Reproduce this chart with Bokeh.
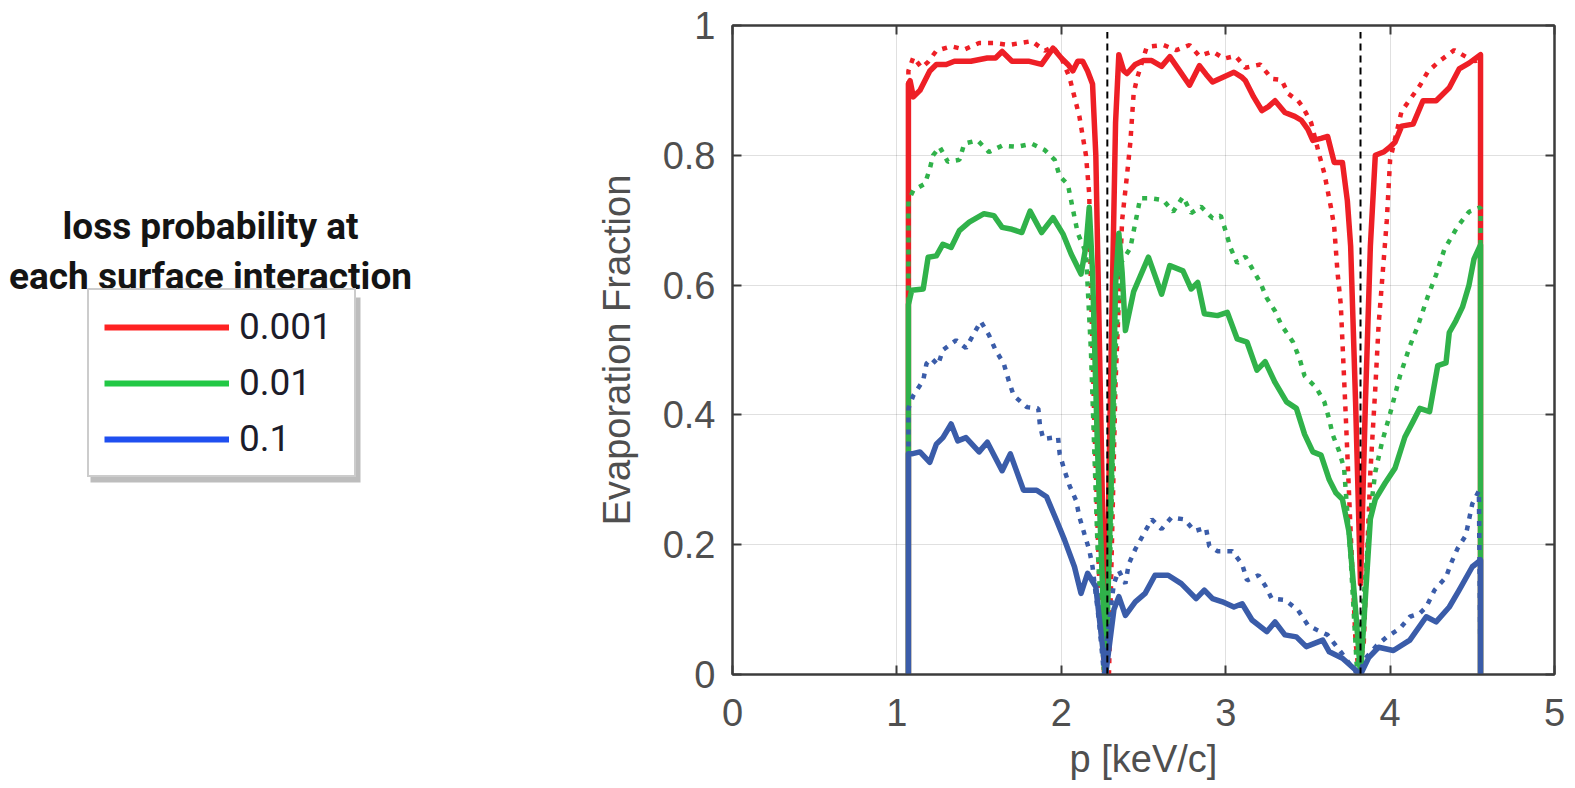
from bokeh.plotting import figure
from bokeh.layouts import row
from bokeh.models import Range1d, LinearAxis, FixedTicker, Legend, LegendItem, Label
from bokeh.embed import file_html
from bokeh.resources import INLINE

# ---------------- data ----------------
x_ticks = [0, 1, 2, 3, 4, 5]
y_ticks = [0, 0.2, 0.4, 0.6, 0.8, 1]
y_tick_labels = ["0", "0.2", "0.4", "0.6", "0.8", "1"]
legend_labels = ["0.001", "0.01", "0.1"]
legend_title = ["loss probability at", "each surface interaction"]
resonance_x = [2.28, 3.82]

red_solid_x = [1.07, 1.07, 1.08, 1.10, 1.14, 1.20, 1.24, 1.30, 1.35, 1.45, 1.55, 1.60, 1.64, 1.70, 1.80, 1.88, 1.95, 2.00,
               2.04, 2.07, 2.10, 2.13, 2.16, 2.19, 2.21, 2.24, 2.27, 2.30, 2.33, 2.35, 2.38, 2.40, 2.45, 2.50, 2.55, 2.61,
               2.66, 2.72, 2.78, 2.84, 2.88, 2.92, 2.98, 3.05, 3.10, 3.12, 3.17, 3.22, 3.26, 3.30, 3.36, 3.42, 3.46, 3.50,
               3.53, 3.58, 3.62, 3.66, 3.71, 3.74, 3.76, 3.79, 3.82, 3.85, 3.88, 3.91, 3.96, 4.00, 4.03, 4.07, 4.14, 4.20,
               4.28, 4.36, 4.42, 4.48, 4.55, 4.55]
red_solid_y = [0.0, 0.91, 0.915, 0.89, 0.90, 0.93, 0.94, 0.94, 0.945, 0.945, 0.95, 0.95, 0.96, 0.945, 0.945, 0.94, 0.965, 0.95,
               0.94, 0.93, 0.945, 0.945, 0.93, 0.91, 0.80, 0.40, 0.0, 0.45, 0.85, 0.955, 0.93, 0.926, 0.94, 0.946, 0.946, 0.937,
               0.952, 0.93, 0.908, 0.938, 0.925, 0.913, 0.92, 0.928, 0.92, 0.915, 0.89, 0.869, 0.875, 0.884, 0.866, 0.86, 0.854, 0.84,
               0.823, 0.826, 0.829, 0.789, 0.789, 0.73, 0.66, 0.42, 0.14, 0.42, 0.66, 0.80, 0.805, 0.813, 0.82, 0.845, 0.848, 0.884,
               0.884, 0.904, 0.933, 0.942, 0.955, 0.0]

red_dot_x = [1.07, 1.07, 1.10, 1.15, 1.19, 1.24, 1.33, 1.41, 1.50, 1.59, 1.68, 1.75, 1.82, 1.90, 1.95, 2.00, 2.05, 2.08,
             2.11, 2.13, 2.15, 2.17, 2.18, 2.20, 2.23, 2.26, 2.29, 2.33, 2.37, 2.40, 2.42, 2.44, 2.46, 2.52, 2.62, 2.70,
             2.78, 2.84, 2.92, 2.99, 3.06, 3.12, 3.21, 3.28, 3.34, 3.38, 3.44, 3.47, 3.52, 3.57, 3.60, 3.62, 3.64, 3.66,
             3.68, 3.70, 3.73, 3.76, 3.79, 3.81, 3.84, 3.86, 3.88, 3.91, 3.93, 3.96, 3.98, 4.00, 4.07, 4.18, 4.23, 4.30,
             4.39, 4.46, 4.52, 4.55, 4.55]
red_dot_y = [0.0, 0.93, 0.951, 0.935, 0.944, 0.961, 0.968, 0.963, 0.973, 0.973, 0.97, 0.973, 0.976, 0.961, 0.967, 0.95, 0.92, 0.89,
             0.86, 0.83, 0.80, 0.74, 0.60, 0.40, 0.15, 0.0, 0.0, 0.45, 0.70, 0.77, 0.82, 0.895, 0.918, 0.967, 0.97, 0.962,
             0.97, 0.953, 0.96, 0.949, 0.953, 0.935, 0.94, 0.918, 0.916, 0.895, 0.884, 0.874, 0.85, 0.80, 0.772, 0.746, 0.72, 0.69,
             0.62, 0.57, 0.40, 0.22, 0.05, 0.0, 0.05, 0.183, 0.312, 0.441, 0.538, 0.635, 0.70, 0.793, 0.868, 0.907, 0.929, 0.945,
             0.962, 0.952, 0.945, 0.95, 0.0]

green_solid_x = [1.07, 1.07, 1.09, 1.16, 1.19, 1.24, 1.28, 1.33, 1.38, 1.44, 1.53, 1.59, 1.64, 1.70, 1.76, 1.81, 1.88, 1.95,
                 2.01, 2.06, 2.12, 2.15, 2.17, 2.19, 2.22, 2.27, 2.31, 2.33, 2.35, 2.37, 2.39, 2.44, 2.53, 2.61, 2.66, 2.74,
                 2.79, 2.83, 2.87, 2.95, 3.01, 3.07, 3.13, 3.19, 3.24, 3.30, 3.37, 3.43, 3.48, 3.53, 3.58, 3.63, 3.67, 3.71,
                 3.75, 3.79, 3.82, 3.85, 3.88, 3.91, 3.97, 4.03, 4.09, 4.14, 4.18, 4.24, 4.29, 4.34, 4.36, 4.40, 4.44, 4.48,
                 4.51, 4.55, 4.55]
green_solid_y = [0.0, 0.57, 0.592, 0.594, 0.643, 0.645, 0.663, 0.658, 0.684, 0.697, 0.71, 0.707, 0.689, 0.686, 0.681, 0.714, 0.681, 0.704,
                 0.679, 0.648, 0.617, 0.66, 0.72, 0.62, 0.35, 0.0, 0.35, 0.60, 0.68, 0.62, 0.53, 0.59, 0.643, 0.586, 0.63, 0.622,
                 0.594, 0.604, 0.556, 0.553, 0.558, 0.517, 0.512, 0.469, 0.482, 0.45, 0.42, 0.41, 0.37, 0.343, 0.338, 0.30, 0.28, 0.27,
                 0.22, 0.10, 0.0, 0.12, 0.24, 0.27, 0.295, 0.318, 0.366, 0.39, 0.41, 0.405, 0.476, 0.48, 0.527, 0.545, 0.566, 0.60,
                 0.64, 0.662, 0.0]

green_dot_x = [1.07, 1.07, 1.10, 1.17, 1.20, 1.22, 1.26, 1.31, 1.38, 1.41, 1.49, 1.56, 1.64, 1.73, 1.82, 1.90, 1.96, 1.99,
               2.04, 2.06, 2.10, 2.15, 2.18, 2.22, 2.26, 2.30, 2.33, 2.36, 2.42, 2.44, 2.46, 2.48, 2.54, 2.62, 2.68, 2.74,
               2.79, 2.85, 2.92, 2.97, 3.00, 3.03, 3.07, 3.12, 3.16, 3.21, 3.25, 3.30, 3.34, 3.41, 3.45, 3.48, 3.55, 3.60,
               3.63, 3.65, 3.69, 3.72, 3.76, 3.80, 3.84, 3.88, 3.91, 3.95, 4.00, 4.06, 4.12, 4.17, 4.23, 4.28, 4.33, 4.41,
               4.48, 4.55, 4.55]
green_dot_y = [0.0, 0.73, 0.746, 0.756, 0.779, 0.80, 0.813, 0.79, 0.793, 0.818, 0.823, 0.805, 0.815, 0.813, 0.818, 0.808, 0.793, 0.768,
               0.755, 0.73, 0.68, 0.65, 0.50, 0.20, 0.0, 0.20, 0.50, 0.633, 0.657, 0.683, 0.708, 0.734, 0.734, 0.731, 0.713, 0.736,
               0.711, 0.721, 0.703, 0.707, 0.683, 0.657, 0.634, 0.644, 0.626, 0.604, 0.58, 0.56, 0.538, 0.512, 0.486, 0.46, 0.442, 0.42,
               0.393, 0.37, 0.344, 0.318, 0.18, 0.0, 0.12, 0.25, 0.312, 0.357, 0.402, 0.46, 0.506, 0.538, 0.583, 0.616, 0.655, 0.69,
               0.713, 0.72, 0.0]

blue_solid_x = [1.07, 1.07, 1.09, 1.14, 1.20, 1.24, 1.28, 1.33, 1.37, 1.42, 1.50, 1.55, 1.64, 1.69, 1.77, 1.85, 1.91, 1.97,
                2.02, 2.08, 2.12, 2.16, 2.21, 2.27, 2.32, 2.35, 2.39, 2.45, 2.51, 2.57, 2.65, 2.73, 2.82, 2.87, 2.92, 2.98,
                3.05, 3.10, 3.16, 3.25, 3.30, 3.36, 3.43, 3.49, 3.59, 3.63, 3.71, 3.79, 3.82, 3.87, 3.93, 4.02, 4.12, 4.22,
                4.28, 4.36, 4.42, 4.50, 4.55, 4.55]
blue_solid_y = [0.0, 0.34, 0.34, 0.343, 0.327, 0.355, 0.365, 0.386, 0.36, 0.365, 0.343, 0.358, 0.314, 0.34, 0.284, 0.284, 0.274, 0.238,
                0.207, 0.166, 0.125, 0.156, 0.135, 0.0, 0.10, 0.12, 0.091, 0.112, 0.125, 0.153, 0.153, 0.14, 0.117, 0.13, 0.117, 0.112,
                0.104, 0.109, 0.084, 0.066, 0.081, 0.061, 0.058, 0.043, 0.053, 0.035, 0.025, 0.007, 0.0, 0.026, 0.042, 0.037, 0.053, 0.089,
                0.081, 0.104, 0.13, 0.166, 0.176, 0.0]

blue_dot_x = [1.07, 1.07, 1.10, 1.16, 1.18, 1.21, 1.25, 1.28, 1.36, 1.42, 1.47, 1.51, 1.56, 1.60, 1.65, 1.68, 1.71, 1.79,
              1.86, 1.87, 1.89, 1.98, 1.99, 2.02, 2.05, 2.09, 2.11, 2.14, 2.17, 2.19, 2.23, 2.26, 2.29, 2.32, 2.35, 2.39,
              2.41, 2.45, 2.50, 2.55, 2.61, 2.67, 2.75, 2.81, 2.88, 2.90, 2.95, 3.04, 3.10, 3.13, 3.20, 3.24, 3.28, 3.36,
              3.44, 3.50, 3.56, 3.62, 3.70, 3.78, 3.81, 3.85, 3.92, 3.98, 4.06, 4.12, 4.18, 4.22, 4.27, 4.34, 4.37, 4.41,
              4.46, 4.50, 4.54, 4.55]
blue_dot_y = [0.0, 0.41, 0.43, 0.453, 0.479, 0.487, 0.477, 0.50, 0.515, 0.503, 0.526, 0.544, 0.523, 0.50, 0.479, 0.453, 0.43, 0.412,
              0.41, 0.384, 0.363, 0.366, 0.34, 0.314, 0.291, 0.268, 0.243, 0.217, 0.192, 0.166, 0.08, 0.0, 0.08, 0.14, 0.16, 0.14,
              0.17, 0.193, 0.216, 0.239, 0.224, 0.242, 0.239, 0.221, 0.226, 0.198, 0.19, 0.19, 0.17, 0.145, 0.153, 0.137, 0.117, 0.115,
              0.099, 0.076, 0.068, 0.061, 0.035, 0.007, 0.0, 0.025, 0.045, 0.058, 0.071, 0.089, 0.094, 0.104, 0.13, 0.15, 0.171, 0.194,
              0.214, 0.263, 0.283, 0.0]

# ---------------- styles ----------------
RED, GREEN, BLUE = "#ee1f26", "#30b24a", "#3a5ca9"
LEG_COLORS = ["#ff2222", "#22c845", "#1f4ff0"]
AX = "#3c3c3c"
TXT = "#4f4f4f"
FONT = "Liberation Sans"
LEGFONT = "Roboto"

H = 786
TOP, BOTTOM = 25, 112          # borders: plot frame spans y = 25 .. 674
LEFT_W = 588

# ---------------- main plot ----------------
p = figure(width=979, height=H, x_range=Range1d(0, 5), y_range=Range1d(0, 1),
           output_backend="svg", toolbar_location=None,
           min_border_left=144, min_border_right=13, min_border_top=TOP, min_border_bottom=BOTTOM)
p.background_fill_color = "white"
p.border_fill_color = "white"
p.outline_line_color = AX
p.outline_line_width = 2

p.xaxis.ticker = FixedTicker(ticks=x_ticks)
p.yaxis.ticker = FixedTicker(ticks=y_ticks)
p.yaxis.major_label_overrides = {t: s for t, s in zip(y_ticks, y_tick_labels)}
for ax in (p.xaxis[0], p.yaxis[0]):
    ax.axis_line_color = AX
    ax.axis_line_width = 2
    ax.major_tick_line_color = AX
    ax.major_tick_line_width = 2
    ax.major_tick_in = 9
    ax.major_tick_out = 0
    ax.minor_tick_line_color = None
    ax.major_label_text_font = FONT
    ax.major_label_text_font_size = "38px"
    ax.major_label_text_color = TXT
    ax.axis_label_text_font = FONT
    ax.axis_label_text_font_size = "38px"
    ax.axis_label_text_font_style = "normal"
    ax.axis_label_text_color = TXT
p.xaxis.axis_label = "p [keV/c]"
p.yaxis.axis_label = "Evaporation Fraction"
p.xaxis.major_label_standoff = 24
p.yaxis.major_label_standoff = 17
p.xaxis.axis_label_standoff = 9
p.yaxis.axis_label_standoff = 22

for side, tk in (("above", x_ticks), ("right", y_ticks)):
    a = LinearAxis(ticker=FixedTicker(ticks=tk), major_label_overrides={t: "" for t in tk},
                   major_label_text_font_size="1px", major_label_standoff=0,
                   major_tick_in=9, major_tick_out=0, minor_tick_line_color=None,
                   major_tick_line_color=AX, major_tick_line_width=2,
                   axis_line_color=AX, axis_line_width=2)
    p.add_layout(a, side)

p.xgrid.grid_line_color = "#000000"
p.xgrid.grid_line_alpha = 0.12
p.ygrid.grid_line_color = "#000000"
p.ygrid.grid_line_alpha = 0.12

DOT = "5 7"
p.line(red_dot_x, red_dot_y, color=RED, line_width=4.5, line_dash=DOT)
p.line(red_solid_x, red_solid_y, color=RED, line_width=5.5, line_join="round")
p.line(green_dot_x, green_dot_y, color=GREEN, line_width=4.5, line_dash=DOT)
p.line(green_solid_x, green_solid_y, color=GREEN, line_width=5.5, line_join="round")
p.line(blue_dot_x, blue_dot_y, color=BLUE, line_width=4.5, line_dash=DOT)
p.line(blue_solid_x, blue_solid_y, color=BLUE, line_width=5.5, line_join="round")

p.segment(x0=resonance_x, y0=[0] * len(resonance_x), x1=resonance_x, y1=[0.99] * len(resonance_x),
          line_color="black", line_width=2, line_dash="7 5")

# ---------------- legend panel (its frame uses page pixels, y downwards) ----------------
q = figure(width=LEFT_W, height=H, x_range=Range1d(0, LEFT_W), y_range=Range1d(H - BOTTOM, TOP),
           output_backend="svg", toolbar_location=None,
           min_border_left=0, min_border_right=0, min_border_top=TOP, min_border_bottom=BOTTOM)
q.axis.visible = False
q.grid.visible = False
q.outline_line_color = None
q.background_fill_color = "white"
q.border_fill_color = "white"

# legend drop shadow
q.quad(left=[90], right=[360], top=[297], bottom=[482], fill_color="#bdbdbd", line_color=None)

nan = float("nan")
items = []
for lab, c in zip(legend_labels, LEG_COLORS):
    r = q.line(x=[nan, nan], y=[nan, nan], color=c, line_width=6)
    items.append(LegendItem(label=lab, renderers=[r]))
leg = Legend(items=items, location=(87, (H - BOTTOM) - 477), orientation="vertical",
             glyph_width=125, glyph_height=40, label_height=40, label_width=100,
             label_standoff=10, spacing=13, padding=15, margin=0,
             label_text_font=LEGFONT, label_text_font_size="37px", label_text_color="#1c1c2a",
             border_line_color="#9a9a9a", border_line_width=2,
             background_fill_color="white", background_fill_alpha=1.0)
q.add_layout(leg, "center")

for i, t in enumerate(legend_title):
    q.add_layout(Label(x=210, y=226 + 50 * i, text=t, text_align="center", text_baseline="alphabetic",
                       text_font=LEGFONT, text_font_size="37px", text_font_style="bold", text_color="#141414"))

layout = row(q, p)
open("out.html", "w").write(file_html(layout, INLINE))
